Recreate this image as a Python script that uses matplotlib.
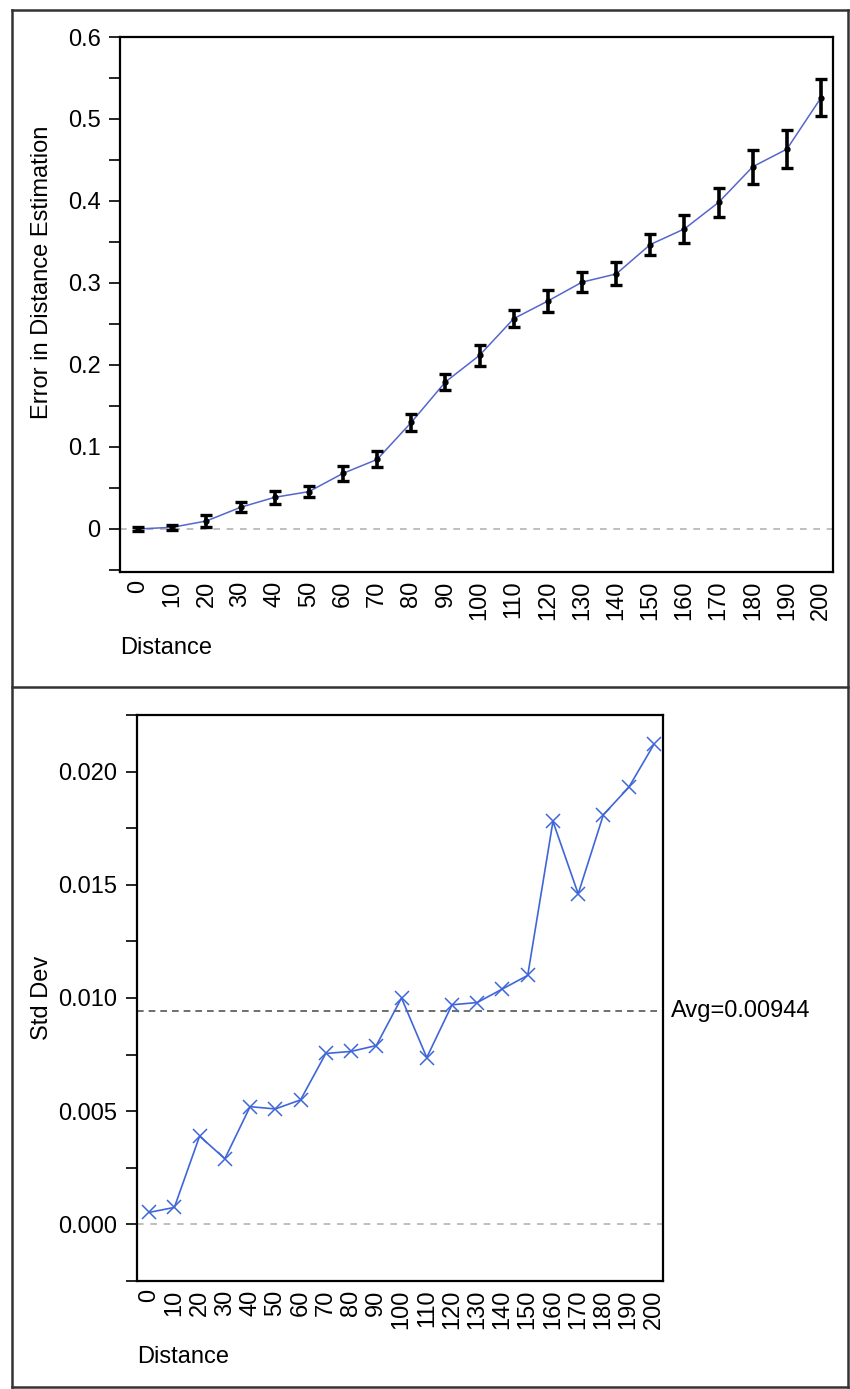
import numpy as np
import matplotlib.pyplot as plt
import matplotlib.ticker as ticker
from matplotlib.lines import Line2D

plt.rcParams['font.family'] = ['Liberation Sans', 'DejaVu Sans']
plt.rcParams['font.size'] = 17

# data
distance = [0, 10, 20, 30, 40, 50, 60, 70, 80, 90, 100,
            110, 120, 130, 140, 150, 160, 170, 180, 190, 200]
error_mean = [0.000, 0.002, 0.0097, 0.0264, 0.0386, 0.0455, 0.0678, 0.0848, 0.130, 0.1793, 0.2118,
              0.2565, 0.278, 0.301, 0.311, 0.3469, 0.366, 0.3983, 0.4418, 0.4633, 0.526]
error_bar = [0.0025, 0.003, 0.0075, 0.006, 0.008, 0.007, 0.0095, 0.0097, 0.0105, 0.010, 0.013,
             0.0105, 0.013, 0.012, 0.014, 0.0128, 0.017, 0.0177, 0.0205, 0.0229, 0.0222]
std_dev = [0.00053, 0.00075, 0.0039, 0.0029, 0.0052, 0.0051, 0.0055, 0.00755, 0.00764, 0.0079, 0.0100,
           0.00737, 0.0097, 0.0098, 0.0104, 0.0110, 0.0178, 0.0146, 0.0181, 0.0193, 0.0212]
avg_value = 0.00944
avg_label = "Avg=0.00944"

W, H = 850, 1389
fig = plt.figure(figsize=(W / 100, H / 100), dpi=100)


def box(l, t, r, b):
    return [l / W, 1 - b / H, (r - l) / W, (b - t) / H]


def style_axes(ax):
    for s in ax.spines.values():
        s.set_linewidth(1.6)
        s.set_color('black')
    ax.tick_params(axis='y', which='both', direction='out', length=8, width=1.2, pad=6)
    ax.tick_params(axis='x', length=0, pad=6)
    ax.set_xticks(distance)
    ax.set_xticklabels([str(d) for d in distance], rotation=90, va='top')


# top panel: mean error with error bars
ax1 = fig.add_axes(box(120, 37, 833, 572))
style_axes(ax1)
ax1.axhline(0, color='#b4b4b4', linestyle=(0, (4, 4)), linewidth=1.2, zorder=1)
ax1.plot(distance, error_mean, color='#5566cc', linewidth=1.1, zorder=2)
ax1.errorbar(distance, error_mean, yerr=error_bar, fmt='none', ecolor='black',
             elinewidth=2.6, capsize=4, capthick=2.4, zorder=3)
ax1.plot(distance, error_mean, 'o', color='black', markersize=3.5, zorder=4)
ax1.set_xlim(-5.3, 203.5)
ax1.set_ylim(-0.0525, 0.6)
ax1.yaxis.set_major_locator(ticker.MultipleLocator(0.05))
ax1.yaxis.set_major_formatter(ticker.FuncFormatter(
    lambda v, p: '' if abs(round(v / 0.1) - v / 0.1) > 1e-6 or v < -1e-9 else ('0' if abs(v) < 1e-9 else '%.1f' % v)))

fig.text(42 / W, 1 - 272 / H, "Error in Distance Estimation", rotation=90, ha='center', va='center')
fig.text(120 / W, 1 - 648 / H, "Distance", ha='left', va='center')

# bottom panel: standard deviation
ax2 = fig.add_axes(box(137, 715, 663, 1281))
style_axes(ax2)
ax2.axhline(0, color='#b4b4b4', linestyle=(0, (4, 4)), linewidth=1.2, zorder=1)
ax2.axhline(avg_value, color='#555555', linestyle=(0, (4, 3)), linewidth=1.2, zorder=1)
ax2.plot(distance, std_dev, color='#3f66d9', linewidth=1.2, marker='x',
         markersize=10, markeredgewidth=1.1, zorder=2)
ax2.set_xlim(-4.8, 203.6)
ax2.set_ylim(-0.0025, 0.0225)
ax2.yaxis.set_major_locator(ticker.MultipleLocator(0.0025))
ax2.yaxis.set_major_formatter(ticker.FuncFormatter(
    lambda v, p: '' if abs(round(v / 0.005) - v / 0.005) > 1e-6 or v < -1e-9 else '%.3f' % abs(v)))
ax2.text(1.015, avg_value, avg_label, transform=ax2.get_yaxis_transform(), ha='left', va='center')

fig.text(42 / W, 1 - 998 / H, "Std Dev", rotation=90, ha='center', va='center')
fig.text(137 / W, 1 - 1357 / H, "Distance", ha='left', va='center')

# outer frame and separator
l, r, t, b, sep = 12 / W, 848 / W, 1 - 10 / H, 1 - 1387 / H, 1 - 687 / H
for xs, ys in [([l, r], [t, t]), ([l, r], [b, b]), ([l, l], [b, t]), ([r, r], [b, t]), ([l, r], [sep, sep])]:
    fig.add_artist(Line2D(xs, ys, transform=fig.transFigure, color='#333333', linewidth=1.8))

fig.savefig('out.png', dpi=100)
